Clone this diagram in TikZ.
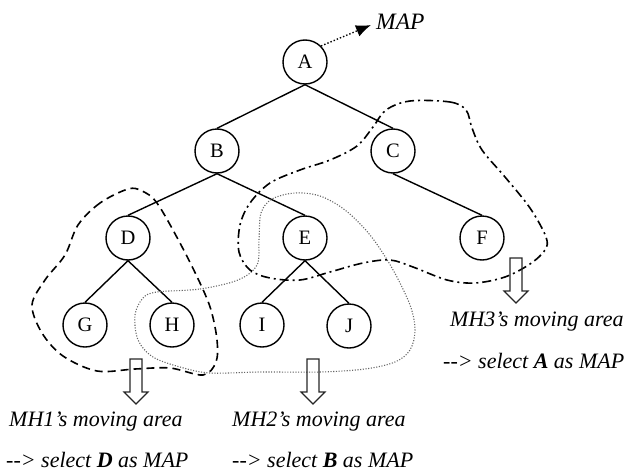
\documentclass[tikz,border=0pt]{standalone}
\usepackage{fontspec}
\setmainfont{Liberation Serif}
\usetikzlibrary{arrows.meta}
\begin{document}
\begin{tikzpicture}[x=1pt,y=-1pt,
  vertex/.style={circle,draw,line width=1.4pt,minimum size=44pt,inner sep=0pt,
    font=\fontsize{20.5}{24}\selectfont},
  edge/.style={line width=1.4pt},
  areatext/.style={anchor=west,inner sep=0pt,font=\fontsize{22}{26}\selectfont\itshape},
  blockarrow/.style={draw,line width=1.2pt,black!85,line join=miter},
  mhone/.style={line width=1.6pt,dash pattern=on 8pt off 5pt},
  mhtwo/.style={line width=1.1pt,gray!80!black,dash pattern=on 1.1pt off 1.6pt},
  mhthree/.style={line width=1.6pt,dash pattern=on 9pt off 4pt on 2pt off 4pt}
]
\useasboundingbox (0,0) rectangle (626,471);

% tree nodes
\node[vertex] (A) at (305,62) {A};
\node[vertex] (B) at (217,151) {B};
\node[vertex] (C) at (393,151) {C};
\node[vertex] (D) at (128,238) {D};
\node[vertex] (E) at (305,238) {E};
\node[vertex] (F) at (482,238) {F};
\node[vertex] (G) at (85,325) {G};
\node[vertex] (H) at (172,325) {H};
\node[vertex] (I) at (262,325) {I};
\node[vertex] (J) at (349,326) {J};

% tree edges
\draw[edge] (A.south) -- (B.north);
\draw[edge] (A.south) -- (C.north);
\draw[edge] (B.south) -- (D.north);
\draw[edge] (B.south) -- (E.north);
\draw[edge] (C.south) -- (F.north);
\draw[edge] (D.south) -- (G.north);
\draw[edge] (D.south) -- (H.north);
\draw[edge] (E.south) -- (I.north);
\draw[edge] (E.south) -- (J.north);

% MAP pointer
\node[inner sep=0pt,anchor=west,font=\fontsize{23.5}{26}\selectfont\itshape] (map) at (376,22) {MAP};
\draw[line width=1.4pt,dotted,-{Latex[length=15pt,width=12pt]}] (A.45) -- ([xshift=-5pt,yshift=-3pt]map.west);

% moving area of MH1
\draw[mhone] plot[smooth cycle,tension=0.55] coordinates {
  (128,189) (100,203) (78,225) (65,255) (45,280) (32,305) (42,333) (63,356)
  (97,371) (135,369) (170,368) (203,375) (216,362) (217,340) (211,310)
  (200,283) (180,243) (157,203) (142,191)};

% moving area of MH2
\draw[mhtwo] plot[smooth cycle,tension=0.55] coordinates {
  (157,292) (200,289) (238,280) (257,265) (259,240) (261,213) (272,199)
  (295,193) (320,196) (345,210) (370,235) (392,268) (410,305) (415,330)
  (410,350) (395,362) (365,369) (320,372) (260,372) (210,373) (180,367)
  (153,357) (138,340) (135,315) (143,298)};

% moving area of MH3
\draw[mhthree] plot[smooth cycle,tension=0.55] coordinates {
  (410,101) (450,102) (466,110) (472,128) (482,150) (505,177) (530,208)
  (546,237) (545,250) (530,264) (505,277) (475,283) (447,280) (413,267)
  (390,260) (363,263) (330,272) (300,280) (270,278) (250,270) (239,252)
  (240,225) (250,203) (270,183) (300,170) (330,160) (357,146) (373,127)
  (386,110)};

% hollow block arrows, each drawn up from its tip
\coordinate (m1) at (136,404);
\coordinate (m2) at (313,404);
\coordinate (m3) at (516,303);
\foreach \tip in {m1,m2,m3}
  \draw[blockarrow] (\tip) -- ++(-12,-12) -- ++(6,0) -- ++(0,-33) -- ++(12,0)
    -- ++(0,33) -- ++(6,0) -- cycle;

% captions
\node[areatext] (t1a) at (9,422) {MH1’s moving area};
\node[areatext] (t1b) at (6,460) {-\kern0pt-> select \textbf{D} as MAP};
\node[areatext] (t2a) at (232,422) {MH2’s moving area};
\node[areatext] (t2b) at (232,460) {-\kern0pt-> select \textbf{B} as MAP};
\node[areatext] (t3a) at (450,322) {MH3’s moving area};
\node[areatext] (t3b) at (443,361) {-\kern0pt-> select \textbf{A} as MAP};
\end{tikzpicture}
\end{document}
